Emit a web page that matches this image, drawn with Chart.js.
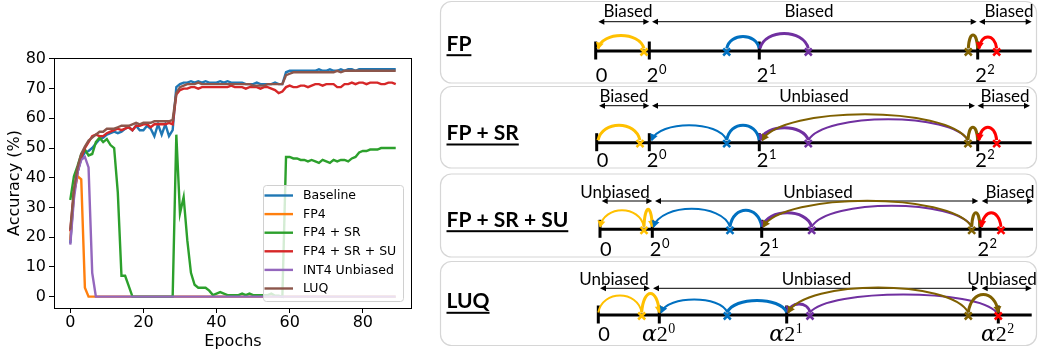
<!DOCTYPE html>
<html><head><meta charset="utf-8">
<script src="https://cdn.jsdelivr.net/npm/chart.js@4.4.1/dist/chart.umd.min.js"></script>
<style>
html,body{margin:0;padding:0;background:#fff;overflow:hidden}
#wrap{position:relative;width:1038px;height:356px}
#c1{position:absolute;left:0;top:0}
#c2{position:absolute;left:415px;top:0}
</style></head><body>
<div id="wrap"><canvas id="c1" width="415" height="356"></canvas><canvas id="c2" width="623" height="356"></canvas></div>
<script>
// ---------------- data: left chart ----------------
const epochs = [
  0,1,2,3,4,5,6,7,8,9,10,11,12,13,14,15,16,17,18,19,20,21,22,23,24,25,26,27,28,29,
  30,31,32,33,34,35,36,37,38,39,40,41,42,43,44,45,46,47,48,49,50,51,52,53,54,55,56,57,58,59,
  60,61,62,63,64,65,66,67,68,69,70,71,72,73,74,75,76,77,78,79,80,81,82,83,84,85,86,87,88,89];
const seriesNames = ['Baseline', 'FP4', 'FP4 + SR', 'FP4 + SR + SU', 'INT4 Unbiased', 'LUQ'];
const baseline = [
  18, 35, 42, 46.5, 48.5, 49, 50, 51.5, 53, 53.5,
  54.5, 55, 55.5, 55, 55.5, 56.5, 57, 56, 57.5, 56,
  56, 57.5, 56.5, 54, 58, 54.5, 58, 54, 56,
  70.5, 71.5, 72, 72, 72.5, 72, 72.5, 72, 72.5, 72, 72,
  72, 72.5, 72, 72.5, 72, 72, 72, 72, 71.5, 71.5,
  71.5, 72, 71.5, 71.5, 71.5, 71.5, 72, 71.5, 71.5,
  75.5, 76, 76, 76, 76, 76, 76, 76, 76, 76.5, 76,
  76, 76.5, 76, 76, 76.5, 76, 76.5, 76.5, 76, 76.5,
  76.5, 76.5, 76.5, 76.5, 76.5, 76.5, 76.5, 76.5, 76.5, 76.5];
const fp4 = [
  19, 35, 40.5, 39.5, 3, 0, 0, 0, 0, 0,
  0, 0, 0, 0, 0, 0, 0, 0, 0, 0,
  0, 0, 0, 0, 0, 0, 0, 0, 0, 0,
  0, 0, 0, 0, 0, 0, 0, 0, 0, 0,
  0, 0, 0, 0, 0, 0, 0, 0, 0, 0,
  0, 0, 0, 0, 0, 0, 0, 0, 0, 0,
  0, 0, 0, 0, 0, 0, 0, 0, 0, 0,
  0, 0, 0, 0, 0, 0, 0, 0, 0, 0,
  0, 0, 0, 0, 0, 0, 0, 0, 0, 0];
const fp4Sr = [
  32.5, 40.5, 44, 48, 49.5, 47.5, 48, 52, 53.5, 52,
  53, 51, 50, 35, 7, 7, 3.5, 0, 0, 0,
  0, 0, 0, 0, 0, 0, 0, 0, 0,
  54.5, 28, 33.5, 19, 8, 4, 3, 3, 3, 2, 0.5,
  1, 1.5, 1, 0.5, 0.5, 0.5, 0.5, 1, 0.5, 1,
  0.5, 0.5, 0.5, 0.5, 0.5, 1, 0.3, 0.3, 0,
  47, 47, 46.5, 46.5, 46, 46, 45.5, 46, 45.5, 45, 46,
  45.5, 45, 46, 45.5, 46, 46, 45.5, 46.5, 47, 48.5,
  49, 49, 49.5, 49.5, 49.5, 50, 50, 50, 50, 50];
const fp4SrSu = [
  22, 35, 42, 47, 50, 52, 54, 54.5, 54, 54,
  55, 55.5, 56, 56.5, 56, 56.5, 57, 56, 57.5, 57.5,
  58, 58, 57, 58, 58, 58, 58, 58.5, 58,
  68, 69.5, 70, 70, 70.5, 70.5, 70, 70.5, 70.5, 70.5, 70.5,
  70.5, 70.5, 70.5, 70.5, 71, 70.5, 70.5, 70.5, 70, 70.5,
  70.5, 70.5, 70, 70.5, 70.5, 70, 69.5, 68.5, 69,
  70.5, 71, 70.5, 70.5, 71, 71, 70.5, 71, 71.5, 71.5, 71,
  71.5, 71.5, 71.5, 70.5, 70.5, 71.5, 71.5, 72, 71.5, 72,
  72, 71.5, 72, 72, 72, 71.5, 71.5, 72, 72, 71.5];
const int4Unbiased = [
  17.5, 33, 42, 46, 47, 43.5, 8, 0, 0, 0,
  0, 0, 0, 0, 0, 0, 0, 0, 0, 0,
  0, 0, 0, 0, 0, 0, 0, 0, 0, 0,
  0, 0, 0, 0, 0, 0, 0, 0, 0, 0,
  0, 0, 0, 0, 0, 0, 0, 0, 0, 0,
  0, 0, 0, 0, 0, 0, 0, 0, 0, 0,
  0, 0, 0, 0, 0, 0, 0, 0, 0, 0,
  0, 0, 0, 0, 0, 0, 0, 0, 0, 0,
  0, 0, 0, 0, 0, 0, 0, 0, 0, 0];
const luq = [
  22.5, 36, 43.5, 48, 50.5, 52.5, 53.5, 54.5, 55.5, 55.5,
  56.5, 56.5, 56.5, 57, 57.5, 57.5, 57.5, 58, 58.5, 58,
  58.5, 58.5, 58.5, 59, 59, 59, 59, 59, 59.5,
  68.5, 70.5, 71, 71.5, 71.5, 71.5, 72, 71.5, 71.5, 71.5, 71.5,
  71.5, 71.5, 71.5, 71.5, 71.5, 71.5, 71.5, 71.5, 71.5, 71.5,
  71, 71, 71, 71, 71.5, 71.5, 71.5, 71.5, 71.5,
  74.5, 75, 75.5, 75.5, 75.5, 75.5, 75.5, 75.5, 75.5, 75.5, 75.5,
  75.5, 75.5, 75.5, 76, 75.5, 76, 76, 76, 76, 76,
  76, 76, 76, 76, 76, 76, 76, 76, 76, 76];
const xTicks = [0, 20, 40, 60, 80];
const yTicks = [0, 10, 20, 30, 40, 50, 60, 70, 80];
const seriesColors = ['#1f77b4', '#ff7f0e', '#2ca02c', '#d62728', '#9467bd', '#8c564b'];

// ---------------- data: right diagram ----------------
const diagramMethods = ['FP', 'FP + SR', 'FP + SR + SU', 'LUQ'];
const diagramRegions = [
  ['Biased', 'Biased', 'Biased'],
  ['Biased', 'Unbiased', 'Biased'],
  ['Unbiased', 'Unbiased', 'Biased'],
  ['Unbiased', 'Unbiased', 'Unbiased']];
const levelBases = ['0', '2', '2', '2'];
const levelExponents = ['', '0', '1', '2'];
const levelPrefixes = [['', '', '', ''], ['', '', '', ''], ['', '', '', ''], ['', 'α', 'α', 'α']];

// ---------------- left chart ----------------
const allSeries = [baseline, fp4, fp4Sr, fp4SrSu, int4Unbiased, luq];
const datasets = allSeries.map((vals, i) => ({
  label: seriesNames[i],
  data: vals.map((v, j) => ({x: epochs[j], y: v})),
  borderColor: seriesColors[i],
  backgroundColor: seriesColors[i],
  borderWidth: 2.4,
  pointRadius: 0,
  tension: 0,
  order: allSeries.length - i
}));

const FONT = 'DejaVu Sans';
const spinePlugin = {
  id: 'spines',
  afterDatasetsDraw(chart) {
    const {ctx, chartArea: a} = chart;
    ctx.save();
    ctx.strokeStyle = '#000';
    ctx.lineWidth = 1;
    ctx.strokeRect(Math.round(a.left) + 0.5, Math.round(a.top) + 0.5, Math.round(a.right - a.left) - 1, Math.round(a.bottom - a.top));
    ctx.restore();
  }
};
const xTickLabelPlugin = {
  id: 'xTickLabels',
  afterDraw(chart) {
    const {ctx, chartArea: a} = chart;
    const xs = chart.scales.x;
    ctx.save();
    ctx.font = '16px "' + FONT + '"';
    ctx.fillStyle = '#000';
    ctx.textAlign = 'center';
    ctx.textBaseline = 'alphabetic';
    xTicks.forEach(v => ctx.fillText(String(v), xs.getPixelForValue(v), a.bottom + 18.5));
    ctx.restore();
  }
};
const legendPlugin = {
  id: 'innerLegend',
  afterDraw(chart) {
    const {ctx, chartArea: a} = chart;
    const w = 140, h = 116;
    const x0 = a.right - 9 - w, y0 = a.bottom - 7 - h;
    ctx.save();
    ctx.beginPath();
    ctx.roundRect(x0 + 0.5, y0 + 0.5, w, h, 3);
    ctx.fillStyle = 'rgba(255,255,255,0.8)';
    ctx.fill();
    ctx.strokeStyle = '#d0d0d0';
    ctx.lineWidth = 1;
    ctx.stroke();
    ctx.font = '12.5px "' + FONT + '"';
    ctx.textBaseline = 'middle';
    ctx.textAlign = 'left';
    seriesNames.forEach((name, i) => {
      const yy = y0 + 10.5 + i * 18.6;
      ctx.strokeStyle = seriesColors[i];
      ctx.lineWidth = 2.4;
      ctx.beginPath();
      ctx.moveTo(x0 + 1.5, yy);
      ctx.lineTo(x0 + 30, yy);
      ctx.stroke();
      ctx.fillStyle = '#000';
      ctx.fillText(name, x0 + 40, yy + 0.5);
    });
    ctx.restore();
  }
};

new Chart(document.getElementById('c1'), {
  type: 'line',
  data: {datasets},
  options: {
    responsive: false,
    animation: false,
    layout: {padding: {left: 0, right: 3, top: 58, bottom: 0}},
    plugins: {legend: {display: false}, tooltip: {enabled: false}},
    scales: {
      x: {
        type: 'linear', min: -4.45, max: 93.45,
        afterBuildTicks: s => { s.ticks = xTicks.map(v => ({value: v})); },
        afterFit: s => { s.height = 48; },
        grid: {display: true, drawOnChartArea: false, drawTicks: true, tickLength: 5, color: '#000', tickColor: '#000', lineWidth: 1},
        border: {display: false},
        ticks: {display: false},
        title: {display: true, text: 'Epochs', font: {family: FONT, size: 16}, color: '#000', padding: {top: 0, bottom: 5}}
      },
      y: {
        type: 'linear', min: -3.83, max: 80.3,
        afterBuildTicks: s => { s.ticks = yTicks.map(v => ({value: v})); },
        afterFit: s => { s.width = 54; },
        grid: {display: true, drawOnChartArea: false, drawTicks: true, tickLength: 5, color: '#000', tickColor: '#000', lineWidth: 1},
        border: {display: false},
        ticks: {font: {family: FONT, size: 16}, color: '#000', padding: 3, autoSkip: false},
        title: {display: true, text: 'Accuracy (%)', font: {family: FONT, size: 16}, color: '#000', padding: {top: 5, bottom: 0}}
      }
    }
  },
  plugins: [spinePlugin, xTickLabelPlugin, legendPlugin]
});

// ---------------- right diagram ----------------
const COLORS = {y: '#FFC000', b: '#0070C0', p: '#7030A0', o: '#7F6000', r: '#FF0000'};
const LAYOUT = {
  panelLeft: 440.5, panelRight: 1036.5,
  panelTop: [1.5, 86.5, 174, 261.5],
  panelBottom: [83, 168, 257, 345.5],
  methodX: 446.5,
  methodBase: [50.7, 140, 226.7, 308.3],
  regionBase: [16.7, 101.7, 198.3, 285],
  regionCenters: [[628, 809, 1009], [624, 814, 1005], [615, 818, 1010], [614, 816.5, 1002]],
  arrowY: [21.7, 105.7, 201, 288.3],
  arrowSpans: [
    [[598.3, 649.3], [652, 976.7], [979, 1031.7]],
    [[599, 649.3], [652, 975], [977.5, 1030]],
    [[601.7, 652.3], [655, 978.3], [981.7, 1033]],
    [[600, 650], [653, 978], [981.7, 1031.7]]],
  lineY: [51, 142.7, 229.3, 315],
  ticks: [[595.7, 649.3, 759.3, 977.7], [596.7, 649.3, 759.3, 977.7], [600, 652.3, 761.7, 980], [598.3, 659.3, 786.7, 998.3]],
  lineEnd: [1031.7, 1031.7, 1033, 1031.7],
  labelBase: [81.7, 166.7, 256, 340.5],
  // arcs: [colour, from, to, height, width, arrowhead]
  arcs: [
    [['y', 644, 598, 13, 3, true], ['b', 726.7, 759.3, 12, 3, false], ['p', 808.3, 760, 15, 3, false],
     ['o', 968.3, 977.7, 13.5, 3, false], ['r', 996.7, 979, 11.5, 3, true]],
    [['y', 640, 598, 15, 3, false], ['b', 726.7, 651.5, 15, 2, true], ['b', 726.7, 759.3, 15, 3, false],
     ['p', 808.3, 760.5, 12.5, 3, true], ['p', 808.3, 968, 21, 2, false], ['o', 968, 762, 26, 2, true],
     ['o', 968, 977.7, 13, 3, false], ['r', 996.7, 979, 13, 3, true]],
    [['y', 644, 600, 16.5, 2, true], ['y', 644, 652.3, 17.5, 3, true], ['b', 730, 653.5, 18, 2, true],
     ['b', 730, 761.7, 16.5, 3, false], ['p', 811.7, 762.5, 14, 3, true], ['p', 811.7, 972, 21, 2, false],
     ['o', 971.7, 763, 26, 2, true], ['o', 971.7, 980, 14, 3, false], ['r', 1001, 981.5, 14, 3, true]],
    [['y', 641.7, 598.3, 17, 2, false], ['y', 641.7, 659.3, 19, 3, true], ['b', 727.3, 661, 13, 2, true],
     ['b', 727.3, 786.7, 12, 3, false], ['p', 810, 788, 8.5, 3, true], ['p', 810, 996.5, 18, 2, false],
     ['o', 968.3, 788, 25, 2, true], ['o', 968.3, 998.3, 18, 3, true]]],
  crosses: [
    [['y', 644], ['b', 726.7], ['p', 808.3], ['o', 968.3], ['r', 996.7]],
    [['y', 640], ['b', 726.7], ['p', 808.3], ['o', 968], ['r', 996.7]],
    [['y', 644], ['b', 730], ['p', 811.7], ['o', 971.7], ['r', 1001]],
    [['y', 641.7], ['b', 727.3], ['p', 810], ['o', 968.3], ['r', 998.3]]]
};

function arrowHead(ctx, x, y, ang, len, hw) {
  ctx.beginPath();
  ctx.moveTo(x, y);
  ctx.lineTo(x - len * Math.cos(ang) + hw * Math.sin(ang), y - len * Math.sin(ang) - hw * Math.cos(ang));
  ctx.lineTo(x - len * Math.cos(ang) - hw * Math.sin(ang), y - len * Math.sin(ang) + hw * Math.cos(ang));
  ctx.closePath();
  ctx.fill();
}

const diagramPlugin = {
  id: 'diagram',
  afterDraw(chart) {
    const ctx = chart.ctx;
    const X = v => chart.scales.x.getPixelForValue(v);
    const Y = v => chart.scales.y.getPixelForValue(v);
    ctx.save();
    ctx.lineCap = 'butt';
    for (let i = 0; i < diagramMethods.length; i++) {
      // panel frame
      ctx.strokeStyle = '#d6d6d6';
      ctx.lineWidth = 1.2;
      ctx.beginPath();
      ctx.roundRect(X(LAYOUT.panelLeft), Y(LAYOUT.panelTop[i]), X(LAYOUT.panelRight) - X(LAYOUT.panelLeft), Y(LAYOUT.panelBottom[i]) - Y(LAYOUT.panelTop[i]), 11);
      ctx.stroke();

      // method name, bold and underlined
      ctx.fillStyle = '#000';
      ctx.font = 'bold 21px Lato, "Open Sans", sans-serif';
      ctx.textAlign = 'left';
      ctx.textBaseline = 'alphabetic';
      const mx = X(LAYOUT.methodX), my = Y(LAYOUT.methodBase[i]);
      ctx.fillText(diagramMethods[i], mx, my);
      const mw = ctx.measureText(diagramMethods[i]).width;
      ctx.fillRect(mx, my + 3.5, mw, 2);

      // region arrows and names
      const ay = Y(LAYOUT.arrowY[i]);
      ctx.strokeStyle = '#000';
      ctx.lineWidth = 1;
      LAYOUT.arrowSpans[i].forEach((sp, k) => {
        const a = X(sp[0]), b = X(sp[1]);
        ctx.beginPath();
        ctx.moveTo(a + 3, ay);
        ctx.lineTo(b - 3, ay);
        ctx.stroke();
        ctx.fillStyle = '#000';
        arrowHead(ctx, a, ay, Math.PI, 6, 3);
        arrowHead(ctx, b, ay, 0, 6, 3);
        ctx.font = '17px Lato, "Open Sans", sans-serif';
        ctx.textAlign = 'center';
        ctx.fillText(diagramRegions[i][k], X(LAYOUT.regionCenters[i][k]), Y(LAYOUT.regionBase[i]));
      });

      // number line
      const ly = Y(LAYOUT.lineY[i]);
      const tks = LAYOUT.ticks[i];
      ctx.strokeStyle = '#000';
      ctx.lineWidth = 3;
      ctx.beginPath();
      ctx.moveTo(X(tks[0]), ly);
      ctx.lineTo(X(LAYOUT.lineEnd[i]), ly);
      ctx.stroke();
      tks.forEach(t => {
        ctx.beginPath();
        ctx.moveTo(X(t), ly - 9.5);
        ctx.lineTo(X(t), ly + 8.5);
        ctx.stroke();
      });

      // arcs
      LAYOUT.arcs[i].forEach(([c, from, to, h, lw, arrow]) => {
        const x1 = X(from), x2 = X(to);
        const y0 = ly - 2.5;
        const k = h / 0.75;
        const dx = x2 - x1;
        const c1x = x1 + dx * 0.1, c2x = x2 - dx * 0.1;
        ctx.strokeStyle = COLORS[c];
        ctx.fillStyle = COLORS[c];
        ctx.lineWidth = lw;
        ctx.beginPath();
        ctx.moveTo(x1, y0);
        ctx.bezierCurveTo(c1x, y0 - k, c2x, y0 - k, x2, y0);
        ctx.stroke();
        if (arrow) {
          const ang = Math.atan2(k, x2 - c2x);
          arrowHead(ctx, x2, y0 + 1, ang, 7, 4);
        }
      });

      // crosses
      LAYOUT.crosses[i].forEach(([c, x]) => {
        const cx = X(x), cy = ly + 1;
        ctx.strokeStyle = COLORS[c];
        ctx.lineWidth = 2.5;
        ctx.beginPath();
        ctx.moveTo(cx - 3.5, cy - 3.5); ctx.lineTo(cx + 3.5, cy + 3.5);
        ctx.moveTo(cx + 3.5, cy - 3.5); ctx.lineTo(cx - 3.5, cy + 3.5);
        ctx.stroke();
      });

      // level labels
      const by = Y(LAYOUT.labelBase[i]);
      ctx.fillStyle = '#000';
      ctx.textAlign = 'left';
      tks.forEach((t, k) => {
        const pre = levelPrefixes[i][k];
        const serif = pre !== '';
        const mainFont = serif ? '22px "Liberation Serif", "DejaVu Serif", serif' : '20px Lato, "Open Sans", sans-serif';
        const supFont = serif ? '14px "Liberation Serif", "DejaVu Serif", serif' : '13px Lato, "Open Sans", sans-serif';
        let x = X(t) + (k === 0 ? 0 : -2.5);
        if (pre) {
          ctx.font = 'italic 22px "DejaVu Serif", "Liberation Serif", serif';
          const pw = ctx.measureText(pre).width;
          ctx.fillText(pre, x - pw, by);
        }
        ctx.font = mainFont;
        ctx.fillText(levelBases[k], x, by);
        const bw = ctx.measureText(levelBases[k]).width;
        if (levelExponents[k]) {
          ctx.font = supFont;
          ctx.fillText(levelExponents[k], x + bw + 0.5, by - 8);
        }
      });
    }
    ctx.restore();
  }
};

new Chart(document.getElementById('c2'), {
  type: 'scatter',
  data: {datasets: []},
  options: {
    responsive: false,
    animation: false,
    layout: {padding: 0},
    plugins: {legend: {display: false}, tooltip: {enabled: false}},
    scales: {
      x: {type: 'linear', min: 415, max: 1038, display: false},
      y: {type: 'linear', min: 0, max: 356, reverse: true, display: false}
    }
  },
  plugins: [diagramPlugin]
});
</script>
</body></html>
